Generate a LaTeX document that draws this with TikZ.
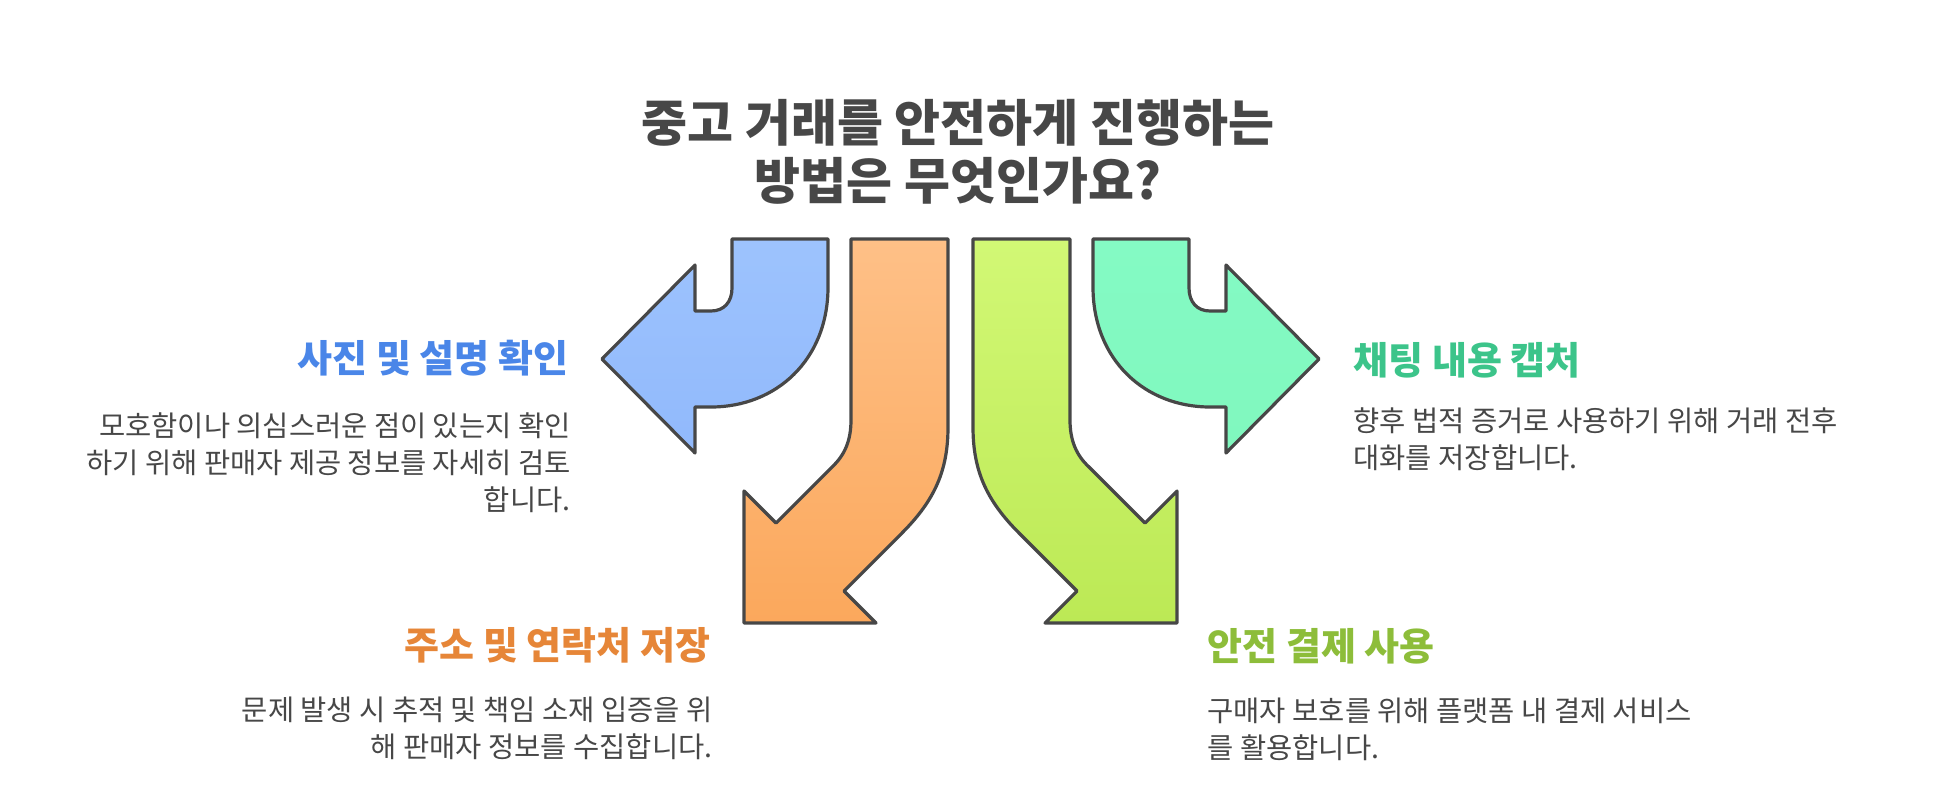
\documentclass[tikz,border=0pt]{standalone}
\usepackage{fontspec}
\setmainfont{Noto Sans CJK KR}
\definecolor{bA}{RGB}{157,195,253}\definecolor{bB}{RGB}{145,185,252}
\definecolor{oA}{RGB}{254,192,135}\definecolor{oB}{RGB}{251,168,92}
\definecolor{tA}{RGB}{132,250,196}\definecolor{tB}{RGB}{128,248,190}
\definecolor{gA}{RGB}{210,248,117}\definecolor{gB}{RGB}{188,233,85}
\definecolor{hB}{RGB}{74,134,232}\definecolor{hO}{RGB}{230,134,56}
\definecolor{hT}{RGB}{60,196,138}\definecolor{hG}{RGB}{141,189,58}
\begin{document}
\begin{tikzpicture}[x=1pt,y=-1pt,
  arr/.style={draw=black!72,line width=3.2pt,line join=round},
  ttl/.style={font=\fontsize{50}{58}\selectfont\bfseries,text=black!72,align=center},
  hd/.style={font=\fontsize{38}{44}\selectfont\bfseries},
  bd/.style={font=\fontsize{28.5}{37}\selectfont,text=black!72}]
\useasboundingbox (0,0) rectangle (1944,795);
\path[arr,top color=bA,bottom color=bB] (732,239) -- (732,288) .. controls (732,302) and (724,311) .. (711,311) -- (695,311) -- (695,265) -- (602,359) -- (695,453) -- (695,407) -- (711,407) .. controls (776,407) and (828,360) .. (828,287) -- (828,239) -- cycle;
\path[arr,top color=oA,bottom color=oB] (851,239) -- (851,420) .. controls (851,440) and (845,455) .. (832,467) -- (776,523) -- (744,491) -- (744,623) -- (876,623) -- (844,591) -- (902,533) .. controls (935,500) and (948,470) .. (948,427) -- (948,239) -- cycle;
\begin{scope}[shift={(1921,0)},xscale=-1]
\path[arr,top color=tA,bottom color=tB] (732,239) -- (732,288) .. controls (732,302) and (724,311) .. (711,311) -- (695,311) -- (695,265) -- (602,359) -- (695,453) -- (695,407) -- (711,407) .. controls (776,407) and (828,360) .. (828,287) -- (828,239) -- cycle;
\path[arr,top color=gA,bottom color=gB] (851,239) -- (851,420) .. controls (851,440) and (845,455) .. (832,467) -- (776,523) -- (744,491) -- (744,623) -- (876,623) -- (844,591) -- (902,533) .. controls (935,500) and (948,470) .. (948,427) -- (948,239) -- cycle;
\end{scope}
\node[ttl] (t) at (958,152) {중고 거래를 안전하게 진행하는\\방법은 무엇인가요?};
\node[hd,anchor=east,text=hB] (h1) at (572,358) {사진 및 설명 확인};
\node[bd,anchor=north east,align=right] (b1) at (574,409) {모호함이나 의심스러운 점이 있는지 확인\\하기 위해 판매자 제공 정보를 자세히 검토\\합니다.};
\node[hd,anchor=east,text=hO] (h2) at (714,645) {주소 및 연락처 저장};
\node[bd,anchor=north east,align=right] (b2) at (716,693) {문제 발생 시 추적 및 책임 소재 입증을 위\\해 판매자 정보를 수집합니다.};
\node[hd,anchor=west,text=hT] (h3) at (1350,360) {채팅 내용 캡처};
\node[bd,anchor=north west,align=left] (b3) at (1350,404) {향후 법적 증거로 사용하기 위해 거래 전후\\대화를 저장합니다.};
\node[hd,anchor=west,text=hG] (h4) at (1204,646) {안전 결제 사용};
\node[bd,anchor=north west,align=left] (b4) at (1204,694) {구매자 보호를 위해 플랫폼 내 결제 서비스\\를 활용합니다.};
\end{tikzpicture}
\end{document}
